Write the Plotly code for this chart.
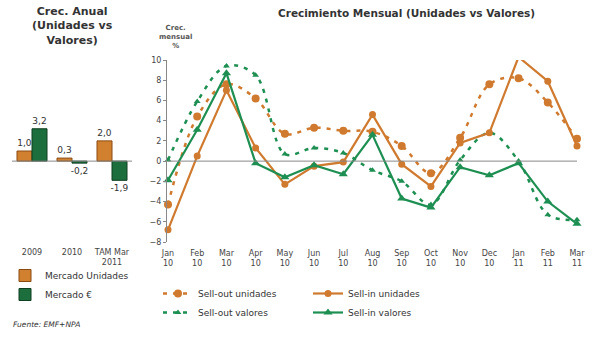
import plotly.graph_objects as go

# ---- data ----
months = ["Jan<br>10", "Feb<br>10", "Mar<br>10", "Apr<br>10", "May<br>10", "Jun<br>10",
          "Jul<br>10", "Aug<br>10", "Sep<br>10", "Oct<br>10", "Nov<br>10", "Dec<br>10",
          "Jan<br>11", "Feb<br>11", "Mar<br>11"]
sellout_unidades = [-4.3, 4.4, 7.6, 6.2, 2.7, 3.3, 3.0, 2.9, 1.5, -1.2, 2.3, 7.6, 8.2, 5.8, 2.2]
sellin_unidades = [-6.8, 0.5, 7.0, 1.3, -2.3, -0.5, -0.1, 4.6, -0.3, -2.5, 1.8, 2.8, 10.3, 7.9, 1.5]
sellout_valores = [0.1, 5.9, 9.4, 8.5, 0.7, 1.3, 0.8, -0.9, -2.0, -4.3, 0.1, 2.8, 0.0, -5.3, -5.8]
sellin_valores = [-1.9, 3.1, 8.7, -0.2, -1.6, -0.4, -1.3, 2.6, -3.7, -4.6, -0.6, -1.4, -0.2, -4.0, -6.2]

annual_cats = ["2009", "2010", "TAM Mar<br>2011"]
mercado_unidades = [1.0, 0.3, 2.0]
mercado_euro = [3.2, -0.2, -1.9]

ORANGE = "#CF7A2E"
GREEN = "#1E8F52"
BAR_OR = "#D0802F"
BAR_GR = "#1C6E3D"
FONT = "DejaVu Sans"
TXT = "#333333"

W, H = 600, 340
def px(x):
    return x / W
def py(y):
    return 1 - y / H

fig = go.Figure()

# ---- left bar chart ----
fig.add_trace(go.Bar(x=annual_cats, y=mercado_unidades, name="Mercado Unidades",
                     marker=dict(color=BAR_OR, line=dict(color="#8A4A12", width=1)),
                     texttemplate="%{y:.1f}", textposition="outside", cliponaxis=False,
                     constraintext="none",
                     textfont=dict(size=9, color=TXT, family=FONT),
                     xaxis="x2", yaxis="y2", legend="legend3"))
fig.add_trace(go.Bar(x=annual_cats, y=mercado_euro, name="Mercado €",
                     marker=dict(color=BAR_GR, line=dict(color="#0F3F22", width=1)),
                     texttemplate="%{y:.1f}", textposition="outside", cliponaxis=False,
                     constraintext="none",
                     textfont=dict(size=9, color=TXT, family=FONT),
                     xaxis="x2", yaxis="y2", legend="legend3"))

# ---- right line chart ----
fig.add_trace(go.Scatter(x=months, y=sellout_unidades, name="Sell-out unidades",
                         mode="lines+markers", line=dict(color=ORANGE, width=2.5, dash="4px,6px", shape="spline"),
                         marker=dict(symbol="circle", size=8, color=ORANGE), cliponaxis=False,
                         legend="legend"))
fig.add_trace(go.Scatter(x=months, y=sellout_valores, name="Sell-out valores",
                         mode="lines+markers", line=dict(color=GREEN, width=2.5, dash="4px,6px", shape="spline"),
                         marker=dict(symbol="triangle-up", size=6, color=GREEN), cliponaxis=False,
                         legend="legend"))
fig.add_trace(go.Scatter(x=months, y=sellin_unidades, name="Sell-in unidades",
                         mode="lines+markers", line=dict(color=ORANGE, width=2.2),
                         marker=dict(symbol="circle", size=7, color=ORANGE), cliponaxis=False,
                         legend="legend2"))
fig.add_trace(go.Scatter(x=months, y=sellin_valores, name="Sell-in valores",
                         mode="lines+markers", line=dict(color=GREEN, width=2.2),
                         marker=dict(symbol="triangle-up", size=8, color=GREEN), cliponaxis=False,
                         legend="legend2"))

ydom = [py(242), py(60)]
pxu = (577 - 168) / 14.0
fig.update_layout(
    width=W, height=H, margin=dict(l=0, r=0, t=0, b=0, autoexpand=False),
    paper_bgcolor="white", plot_bgcolor="white",
    separators=", ",
    font=dict(family=FONT, color=TXT, size=8),
    barmode="group", bargap=0.25, bargroupgap=0,
    xaxis=dict(domain=[px(167), px(585)], type="category",
               range=[-(168 - 167) / pxu, 14 + (585 - 577) / pxu],
               showline=False, showgrid=False, zeroline=False, ticks="",
               ticklabelstandoff=5,
               tickfont=dict(size=8, color="#444"), fixedrange=True),
    yaxis=dict(domain=ydom, range=[-8, 10], dtick=2, showgrid=False, zeroline=False,
               showline=True, linecolor="#888", linewidth=1, ticks="outside", ticklen=3,
               tickcolor="#888", tickfont=dict(size=8, color="#444")),
    xaxis2=dict(domain=[px(12), px(132)], type="category", anchor="y2",
                range=[-0.5, 2.5], showline=False, showgrid=False, zeroline=False, ticks="",
                ticklabelstandoff=4,
                tickfont=dict(size=8, color="#444")),
    yaxis2=dict(domain=ydom, range=[-8, 10], anchor="x2", visible=False),
    legend=dict(x=px(158), y=py(279), xanchor="left", yanchor="top", orientation="v",
                font=dict(size=9, color=TXT), bgcolor="rgba(0,0,0,0)", itemwidth=30),
    legend2=dict(x=px(308), y=py(279), xanchor="left", yanchor="top", orientation="v",
                 font=dict(size=9, color=TXT), bgcolor="rgba(0,0,0,0)", itemwidth=30),
    legend3=dict(x=px(5), y=py(261), xanchor="left", yanchor="top", orientation="v",
                 font=dict(size=9, color=TXT), bgcolor="rgba(0,0,0,0)", itemwidth=30),
    shapes=[
        dict(type="line", xref="x", yref="y", x0=0, x1=14, y0=0, y1=0,
             line=dict(color="#888", width=1)),
        dict(type="line", xref="x2", yref="y2", x0=-0.5, x1=2.5, y0=0, y1=0,
             line=dict(color="#888", width=1)),
    ],
    annotations=[
        dict(text="<b>Crec. Anual<br>(Unidades vs<br>Valores)</b>", x=px(72), y=py(3),
             xref="paper", yref="paper", xanchor="center", yanchor="top", showarrow=False,
             font=dict(size=11, color=TXT, family=FONT)),
        dict(text="<b>Crecimiento Mensual (Unidades vs Valores)</b>", x=px(406), y=py(5),
             xref="paper", yref="paper", xanchor="center", yanchor="top", showarrow=False,
             font=dict(size=10.5, color=TXT, family=FONT)),
        dict(text="<b>Crec.<br>mensual<br>%</b>", x=px(175), y=py(22),
             xref="paper", yref="paper", xanchor="center", yanchor="top", showarrow=False,
             font=dict(size=7, color="#555", family=FONT)),
        dict(text="<i>Fuente: EMF+NPA</i>", x=px(11), y=py(324),
             xref="paper", yref="paper", xanchor="left", yanchor="middle", showarrow=False,
             font=dict(size=7.5, color=TXT, family=FONT)),
    ],
)

fig.write_html("out.html")
